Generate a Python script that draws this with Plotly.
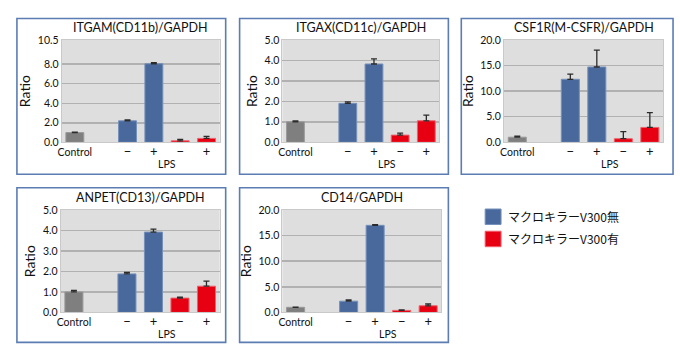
import plotly.graph_objects as go

# ---- data ----
categories = ["Control", "", "−", "+", "−", "+"]
group_label = "LPS"
series_names = ["マクロキラーV300無", "マクロキラーV300有"]

titles = ["ITGAM(CD11b)/GAPDH", "ITGAX(CD11c)/GAPDH", "CSF1R(M-CSFR)/GAPDH",
          "ANPET(CD13)/GAPDH", "CD14/GAPDH"]

control_vals = [1.0, 1.0, 1.0, 1.0, 1.0]
control_err = [0.05, 0.05, 0.2, 0.08, 0.05]

blue_vals = [[2.2, 8.05], [1.9, 3.82], [12.3, 14.7], [1.88, 3.92], [2.2, 17.0]]
blue_err = [[0.1, 0.1], [0.07, 0.25], [1.0, 3.3], [0.07, 0.15], [0.25, 0.15]]

red_vals = [[0.15, 0.4], [0.35, 1.05], [0.7, 2.9], [0.7, 1.28], [0.4, 1.3]]
red_err = [[0.15, 0.2], [0.1, 0.28], [1.4, 2.9], [0.04, 0.25], [0.1, 0.35]]

y_max = [10.5, 5.0, 20.0, 5.0, 20.0]
y_ticks = [[0, 2, 4, 6, 8, 10.5], [0, 1, 2, 3, 4, 5], [0, 5, 10, 15, 20],
           [0, 1, 2, 3, 4, 5], [0, 5, 10, 15, 20]]

# ---- style / layout (pixels) ----
W, H = 680, 360
plot_boxes = [(58, 217, 35, 141), (280, 438, 35, 141), (503, 663, 35, 141),
              (57, 217, 211, 317), (280, 440, 211, 317)]
frame_boxes = [(13, 223, 13, 174), (237, 447, 13, 174), (460, 673, 13, 174),
               (13, 223, 188, 348), (237, 447, 188, 348)]
legend_rows = [218, 241]

GRAY = "#7f7f7f"
BLUE = "#49699c"
RED = "#e60012"
FONT = "Lato, 'Noto Sans CJK JP', sans-serif"
series_colors = [BLUE, RED]
series_edges = ["#7590bb", "#f0606a"]

def tick_text(label):
    if label in ("−", "+"):
        return "<span style='font-size:13px'>" + label + "</span>"
    return label

fig = go.Figure()
xpos = list(range(len(categories)))
ctrl_x = [xpos[0]]
blue_x = [xpos[2], xpos[3]]
red_x = [xpos[4], xpos[5]]
lps_center = sum(xpos[2:]) / len(xpos[2:])

layout = {}
annotations = []
shapes = []
for i in range(5):
    n = "" if i == 0 else str(i + 1)
    xa, ya = "x" + n, "y" + n
    common = dict(xaxis=xa, yaxis=ya, width=0.68, showlegend=False)
    err_style = dict(type="data", symmetric=False, color="#2b2b2b", thickness=1.3, width=3)
    fig.add_trace(go.Bar(x=ctrl_x, y=[control_vals[i]], name="Control",
                         marker=dict(color=GRAY, line=dict(color="#9a9a9a", width=1)),
                         error_y=dict(array=[control_err[i]], arrayminus=[0], **err_style), **common))
    fig.add_trace(go.Bar(x=blue_x, y=blue_vals[i], name=series_names[0],
                         marker=dict(color=BLUE, line=dict(color=series_edges[0], width=1)),
                         error_y=dict(array=blue_err[i], arrayminus=[0, 0], **err_style), **common))
    fig.add_trace(go.Bar(x=red_x, y=red_vals[i], name=series_names[1],
                         marker=dict(color=RED, line=dict(color=series_edges[1], width=1)),
                         error_y=dict(array=red_err[i], arrayminus=[0, 0], **err_style), **common))
    x0, x1, y0, y1 = plot_boxes[i]
    layout["xaxis" + n] = dict(domain=[x0 / W, x1 / W], anchor=ya, range=[-0.5, 5.5],
                               tickvals=xpos, ticktext=[tick_text(c) for c in categories],
                               ticks="", showgrid=False,
                               zeroline=False, showline=True, mirror=True, linecolor="#c9c9c9",
                               linewidth=1, tickfont=dict(size=10.5, color="#111"), fixedrange=True)
    layout["yaxis" + n] = dict(domain=[1 - y1 / H, 1 - y0 / H], anchor=xa, range=[0, y_max[i]],
                               tickvals=y_ticks[i], tickformat=".1f", ticks="", showgrid=True,
                               gridcolor="#b1b1b1", gridwidth=1.5, zeroline=False, showline=True,
                               mirror=True, linecolor="#c9c9c9", linewidth=1,
                               tickfont=dict(size=10.5, color="#111"), fixedrange=True,
                               title=dict(text="Ratio", font=dict(size=14, color="#111"), standoff=3))
    annotations.append(dict(x=(x0 + x1) / 2 / W, y=1 - (y0 - 3) / H, xref="paper", yref="paper",
                            text=titles[i], showarrow=False, xanchor="center", yanchor="bottom",
                            font=dict(size=12.5, color="#111")))
    annotations.append(dict(x=lps_center, y=0, xref=xa, yref=ya + " domain", text=group_label,
                            showarrow=False, xanchor="center", yanchor="top", yshift=-14,
                            font=dict(size=10.5, color="#111")))
    fx0, fx1, fy0, fy1 = frame_boxes[i]
    shapes.append(dict(type="rect", xref="paper", yref="paper", x0=fx0 / W, x1=fx1 / W,
                       y0=1 - fy1 / H, y1=1 - fy0 / H, line=dict(color="#5b7db3", width=1.6)))

# legend (drawn as keys + text)
for name, col, edge, cy in zip(series_names, series_colors, series_edges, legend_rows):
    shapes.append(dict(type="rect", xref="paper", yref="paper", x0=484 / W, x1=500 / W,
                       y0=1 - (cy + 8) / H, y1=1 - (cy - 8) / H, fillcolor=col,
                       line=dict(color=edge, width=1)))
    annotations.append(dict(x=505 / W, y=1 - cy / H, xref="paper", yref="paper", text=name,
                            showarrow=False, xanchor="left", yanchor="middle",
                            font=dict(size=12, family="'Noto Sans CJK JP', sans-serif", color="#111")))

fig.update_layout(
    width=W, height=H, margin=dict(l=0, r=0, t=0, b=0),
    paper_bgcolor="white", plot_bgcolor="#dedede",
    font=dict(family=FONT, color="#111"),
    barmode="overlay", bargap=0, showlegend=False,
    annotations=annotations, shapes=shapes,
    **layout,
)

fig.write_html("out.html", config={"displayModeBar": False, "staticPlot": True},
               post_script="document.body.style.margin='0';")
